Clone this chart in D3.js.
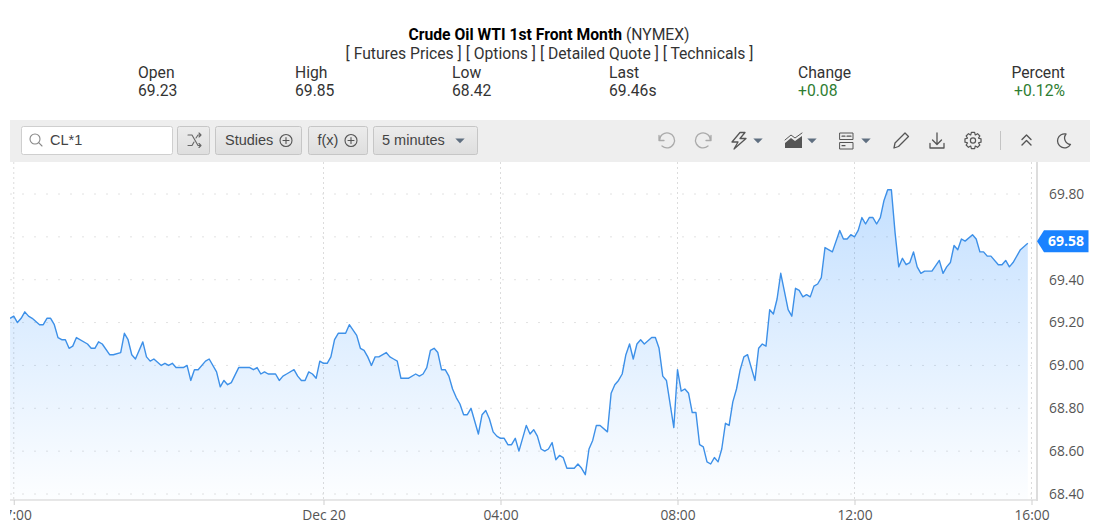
<!DOCTYPE html>
<html>
<head>
<meta charset="utf-8">
<script src="https://d3js.org/d3.v7.min.js"></script>
<style>
  html, body { margin: 0; padding: 0; background: #fff; overflow: hidden; }
  svg { display: block; }
  .hdr { font-family: Roboto, sans-serif; font-size: 15.7px; fill: #333; }
  .btn { font-family: "Liberation Sans", Arial, sans-serif; font-size: 14.5px; fill: #444; }
  .axis text { font-family: "Open Sans", sans-serif; font-size: 13.8px; fill: #555; }
  .axis path { display: none; }
  .icon { fill: none; stroke: #555; stroke-width: 1.4px; stroke-linecap: round; stroke-linejoin: round; }
</style>
</head>
<body>
<svg id="chart" width="1109" height="526"></svg>
<script>
// 5 minute bars counted from midnight Dec 20 at each visible corner
var bars = [-85,-84,-83,-82,-81,-80,-79,-77,-76,-75,-74,-73,-72,-71,-70,-69,-68,-67,-64,-63,-62,-61,-60,-58,-57,-55,-54,-53,-52,-51,-49,-48,-47,-46,-44,-43,-42,-41,-40,-38,-37,-36,-35,-34,-32,-31,-29,-28,-27,-26,-25,-23,-20,-19,-18,-17,-16,-15,-13,-12,-11,-10,-8,-7,-6,-5,-4,-3,-2,-1,
  0,1,2,3,4,6,7,9,10,11,12,13,14,15,17,18,19,20,21,23,25,26,27,28,29,30,31,32,33,34,35,36,37,38,39,40,42,43,44,45,46,47,48,49,50,51,52,53,55,56,57,58,59,60,61,62,63,64,65,66,67,68,69,70,71,72,73,74,75,77,78,79,80,81,82,83,84,85,86,87,89,90,91,92,93,95,
  96,97,98,99,100,101,102,103,104,105,106,107,108,109,110,111,112,113,114,115,117,118,119,120,121,122,123,124,126,127,128,129,130,131,132,133,134,135,136,138,140,141,142,143,144,145,146,147,148,149,150,151,152,153,154,155,156,157,158,159,160,161,162,163,165,167,168,169,170,171,172,173,174,176,177,178,179,180,181,183,184,185,186,187,189,191];
var prices = [69.22,69.23,69.20,69.22,69.25,69.23,69.22,69.19,69.19,69.22,69.22,69.19,69.13,69.12,69.12,69.08,69.09,69.13,69.10,69.08,69.08,69.11,69.10,69.05,69.05,69.06,69.15,69.12,69.05,69.03,69.11,69.04,69.02,69.03,69.00,69.01,69.00,69.01,68.99,68.99,69.00,68.93,68.98,68.98,69.02,69.03,68.97,68.90,68.93,68.91,68.92,68.99,68.99,68.98,68.99,68.96,68.97,68.96,68.96,68.93,68.95,68.96,68.98,68.95,68.93,68.93,68.97,68.96,68.94,69.02,
  69.01,69.01,69.04,69.12,69.15,69.15,69.19,69.14,69.08,69.07,69.04,69.00,69.04,69.04,69.06,69.04,69.03,69.02,68.94,68.94,68.96,68.95,68.96,68.99,69.07,69.08,69.06,68.98,68.98,68.95,68.89,68.85,68.82,68.77,68.77,68.80,68.68,68.77,68.79,68.75,68.69,68.67,68.66,68.66,68.63,68.63,68.66,68.60,68.72,68.68,68.70,68.67,68.61,68.60,68.61,68.64,68.56,68.58,68.57,68.52,68.52,68.52,68.54,68.52,68.49,68.61,68.65,68.72,68.72,68.69,68.87,68.91,68.93,68.96,69.05,69.10,69.03,69.10,69.12,69.10,69.13,69.13,69.08,68.95,68.93,68.71,
  68.98,68.88,68.89,68.87,68.78,68.78,68.63,68.62,68.55,68.54,68.57,68.55,68.61,68.73,68.72,68.83,68.89,68.98,69.04,69.05,68.93,69.08,69.10,69.09,69.26,69.24,69.31,69.43,69.26,69.23,69.36,69.35,69.32,69.33,69.32,69.37,69.38,69.41,69.55,69.53,69.63,69.59,69.59,69.61,69.60,69.63,69.69,69.66,69.69,69.69,69.66,69.69,69.77,69.82,69.82,69.62,69.46,69.50,69.47,69.48,69.53,69.46,69.43,69.44,69.44,69.49,69.43,69.46,69.48,69.56,69.54,69.59,69.58,69.61,69.59,69.53,69.53,69.51,69.51,69.47,69.47,69.49,69.46,69.48,69.54,69.57];

var yTicks = [68.4, 68.6, 68.8, 69.0, 69.2, 69.4, 69.6, 69.8];
var yLabels = [68.4, 68.6, 68.8, 69.0, 69.2, 69.4, 69.8];
var lastTag = 69.58;
var xTickBars = [-84, 0, 48, 96, 144, 192];
var xTickLabels = ["17:00", "Dec 20", "04:00", "08:00", "12:00", "16:00"];

var statNames = ["Open", "High", "Low", "Last", "Change", "Percent"];
var statValues = ["69.23", "69.85", "68.42", "69.46s", "+0.08", "+0.12%"];

var svg = d3.select("#chart");
var day0 = new Date(2024, 11, 20);
var toDate = n => d3.timeMinute.offset(day0, n * 5);

var x = d3.scaleTime().domain([toDate(0), toDate(192)]).range([323.5, 1031.5]);
var y = d3.scaleLinear().domain([68.4, 69.8]).range([494, 194]);

var points = bars.map((b, i) => ({date: toDate(b), price: prices[i]}));

// header
var title = svg.append("text").attr("class", "hdr").attr("x", 549).attr("y", 40).attr("text-anchor", "middle");
title.append("tspan").attr("font-weight", 700).style("fill", "#000").text("Crude Oil WTI 1st Front Month");
title.append("tspan").text(" (NYMEX)");
svg.append("text").attr("class", "hdr").attr("x", 549.5).attr("y", 59).attr("text-anchor", "middle")
  .text("[ Futures Prices ] [ Options ] [ Detailed Quote ] [ Technicals ]");

var statX = [138, 295, 452, 609, 798, 1065];
statNames.forEach((name, i) => {
  var anchor = i == 5 ? "end" : "start";
  svg.append("text").attr("class", "hdr").attr("x", statX[i]).attr("y", 78).attr("text-anchor", anchor).text(name);
  svg.append("text").attr("class", "hdr").attr("x", statX[i]).attr("y", 96).attr("text-anchor", anchor)
    .style("fill", i > 3 ? "#2e7d32" : "#333").text(statValues[i]);
});

// toolbar
svg.append("rect").attr("x", 10).attr("y", 120).attr("width", 1080).attr("height", 42).attr("fill", "#eeeeee");
svg.append("rect").attr("x", 21.5).attr("y", 126.5).attr("width", 151).attr("height", 28).attr("rx", 2)
  .attr("fill", "#fff").attr("stroke", "#cfcfcf");

var defs = svg.append("defs");
var btnGrad = defs.append("linearGradient").attr("id", "btnGrad").attr("x1", 0).attr("x2", 0).attr("y1", 0).attr("y2", 1);
btnGrad.append("stop").attr("offset", "0%").attr("stop-color", "#ececec");
btnGrad.append("stop").attr("offset", "100%").attr("stop-color", "#dedede");

var buttons = [[177.5, 32], [215.5, 86], [308.5, 59], [373.5, 104]];
buttons.forEach(b => {
  svg.append("rect").attr("x", b[0]).attr("y", 126.5).attr("width", b[1]).attr("height", 28).attr("rx", 2)
    .attr("fill", "url(#btnGrad)").attr("stroke", "#c6c6c6");
});
[["CL*1", 50], ["Studies", 225], ["f(x)", 317.5], ["5 minutes", 382]].forEach(t => {
  svg.append("text").attr("class", "btn").attr("x", t[1]).attr("y", 145).text(t[0]);
});

function icon(d, color, width) {
  return svg.append("path").attr("class", "icon").attr("d", d)
    .style("stroke", color || "#555").style("stroke-width", width || 1.4);
}
function plusCircle(cx) {
  svg.append("circle").attr("class", "icon").attr("cx", cx).attr("cy", 140.5).attr("r", 6).style("stroke-width", 1.1);
  icon(`M${cx - 3} 140.5H${cx + 3}M${cx} 137.5V143.5`, "#555", 1.1);
}
function caret(cx, color) {
  svg.append("path").attr("d", `M${cx - 4.7} 138.5H${cx + 4.7}L${cx} 143.2Z`).attr("fill", color || "#5f6f80");
}
// magnifier, shuffle
svg.append("circle").attr("class", "icon").attr("cx", 35).attr("cy", 139).attr("r", 5).style("stroke", "#888").style("stroke-width", 1.1);
icon("M38.7 142.7L42 146", "#888", 1.1);
icon("M188 135L192 135L198 145.5L201 145.5M188 145.5L192 145.5L194 142M196 138L198 135L201 135M199 133L201 135L199 137M199 143.5L201 145.5L199 147.5", "#666", 1.1);
plusCircle(286);
plusCircle(351);
caret(460);

// right hand icons
icon("M659 135.5V140.5H664M659.5 140.5A7.5 7.5 0 1 1 662 146", "#aaa", 1.3);
icon("M711 135.5V140.5H706M710.5 140.5A7.5 7.5 0 1 0 708 146", "#aaa", 1.3);
icon("M740 132.5L732 142H738L734 149L746 138.5H740L745 132.5Z", "#555", 1.3);
caret(758);
svg.append("path").attr("d", "M785 148V143L791 138L795 141L802 136V148Z").attr("fill", "#555");
icon("M785 140L791 135L795 138L802 133", "#555", 1);
caret(812);
[[840, 133], [840, 142.5]].forEach(p => {
  svg.append("rect").attr("class", "icon").attr("x", p[0]).attr("y", p[1]).attr("width", 13).attr("height", 6.5).style("stroke-width", 1);
});
icon("M842 136.2H845M847 136.2H851M842 145.7H845", "#555", 1.2);
caret(866);
icon("M894 148L895 143L905 133L908.5 136.5L898.5 146.5Z", "#555", 1.3);
icon("M937 133V144M932.5 140L937 144.5L941.5 140M930 143.5V148H944V143.5", "#555", 1.3);

// gear outline, eight teeth
var gearPts = [];
d3.range(8).forEach(i => {
  var a = i * Math.PI / 4;
  [[-0.38, 6], [-0.2, 8.2], [0.2, 8.2], [0.38, 6]].forEach(p => {
    gearPts.push([973 + p[1] * Math.cos(a + p[0]), 140.5 + p[1] * Math.sin(a + p[0])]);
  });
});
icon(d3.line()(gearPts) + "Z", "#555", 1.2);
svg.append("circle").attr("class", "icon").attr("cx", 973).attr("cy", 140.5).attr("r", 2.6).style("stroke-width", 1.2);

svg.append("line").attr("x1", 1000.5).attr("x2", 1000.5).attr("y1", 131).attr("y2", 150).attr("stroke", "#c4c4c4");
icon("M1022 139.5L1026.5 135L1031 139.5M1022 145L1026.5 140.5L1031 145", "#555", 1.4);
icon("M1066 134A7 7 0 1 0 1070.5 144.5A6.5 6.5 0 0 1 1066 134Z", "#555", 1.3);

// plot
var grad = defs.append("linearGradient").attr("id", "areaGrad").attr("gradientUnits", "userSpaceOnUse")
  .attr("x1", 0).attr("x2", 0).attr("y1", 190).attr("y2", 500);
grad.append("stop").attr("offset", "0%").attr("stop-color", "#1e88ff").attr("stop-opacity", 0.26);
grad.append("stop").attr("offset", "100%").attr("stop-color", "#1e88ff").attr("stop-opacity", 0.01);
defs.append("clipPath").attr("id", "plotClip").append("rect")
  .attr("x", 10).attr("y", 162).attr("width", 1027).attr("height", 364);
// the bottom axis is only cut on its left side, 16:00 stays whole
defs.append("clipPath").attr("id", "axisClip").append("rect")
  .attr("x", 10).attr("y", 495).attr("width", 1099).attr("height", 31);

var plot = svg.append("g").attr("clip-path", "url(#plotClip)");

plot.selectAll(".hgrid").data(yTicks).enter().append("line").attr("class", "hgrid")
  .attr("x1", 10).attr("x2", 1037).attr("y1", d => y(d)).attr("y2", d => y(d))
  .attr("stroke", "#e2e2e2").attr("stroke-dasharray", "2 10");
plot.selectAll(".vgrid").data(xTickBars).enter().append("line").attr("class", "vgrid")
  .attr("x1", d => x(toDate(d))).attr("x2", d => x(toDate(d))).attr("y1", 162).attr("y2", 500)
  .attr("stroke", "#dcdcdc").attr("stroke-dasharray", "2 3");

plot.append("path").datum(points).attr("fill", "url(#areaGrad)")
  .attr("d", d3.area().x(d => x(d.date)).y0(500).y1(d => y(d.price)));
plot.append("path").datum(points).attr("fill", "none").attr("stroke", "#3d90e8").attr("stroke-width", 1.4)
  .attr("stroke-linejoin", "round")
  .attr("d", d3.line().x(d => x(d.date)).y(d => y(d.price)));

// axes
var xAxis = svg.append("g").attr("clip-path", "url(#axisClip)").append("g").attr("class", "axis")
  .attr("transform", "translate(0,500)")
  .call(d3.axisBottom(x).tickValues(xTickBars.map(toDate)).tickSize(5).tickPadding(5)
    .tickFormat((d, i) => xTickLabels[i]));
xAxis.selectAll("line").attr("stroke", "#cfcfcf");

svg.append("line").attr("x1", 10).attr("x2", 1037).attr("y1", 500).attr("y2", 500).attr("stroke", "#cfcfcf");
svg.append("line").attr("x1", 1037).attr("x2", 1037).attr("y1", 162).attr("y2", 501).attr("stroke", "#dddddd").attr("stroke-width", 2);

svg.append("g").attr("class", "axis").attr("transform", "translate(1037,0)")
  .call(d3.axisRight(y).tickValues(yLabels).tickSize(0).tickPadding(12).tickFormat(d3.format(".2f")));

// last price tag
svg.append("path").attr("fill", "#1a82ff")
  .attr("d", `M1037 ${y(lastTag)}L1044 ${y(lastTag) - 11}H1088.5V${y(lastTag) + 11}H1044Z`);
svg.append("text").attr("x", 1066).attr("y", y(lastTag)).attr("dy", "0.35em").attr("text-anchor", "middle")
  .attr("font-family", "'Open Sans', sans-serif").attr("font-size", 14).attr("font-weight", 700).attr("fill", "#fff")
  .text(d3.format(".2f")(lastTag));
</script>
</body>
</html>
